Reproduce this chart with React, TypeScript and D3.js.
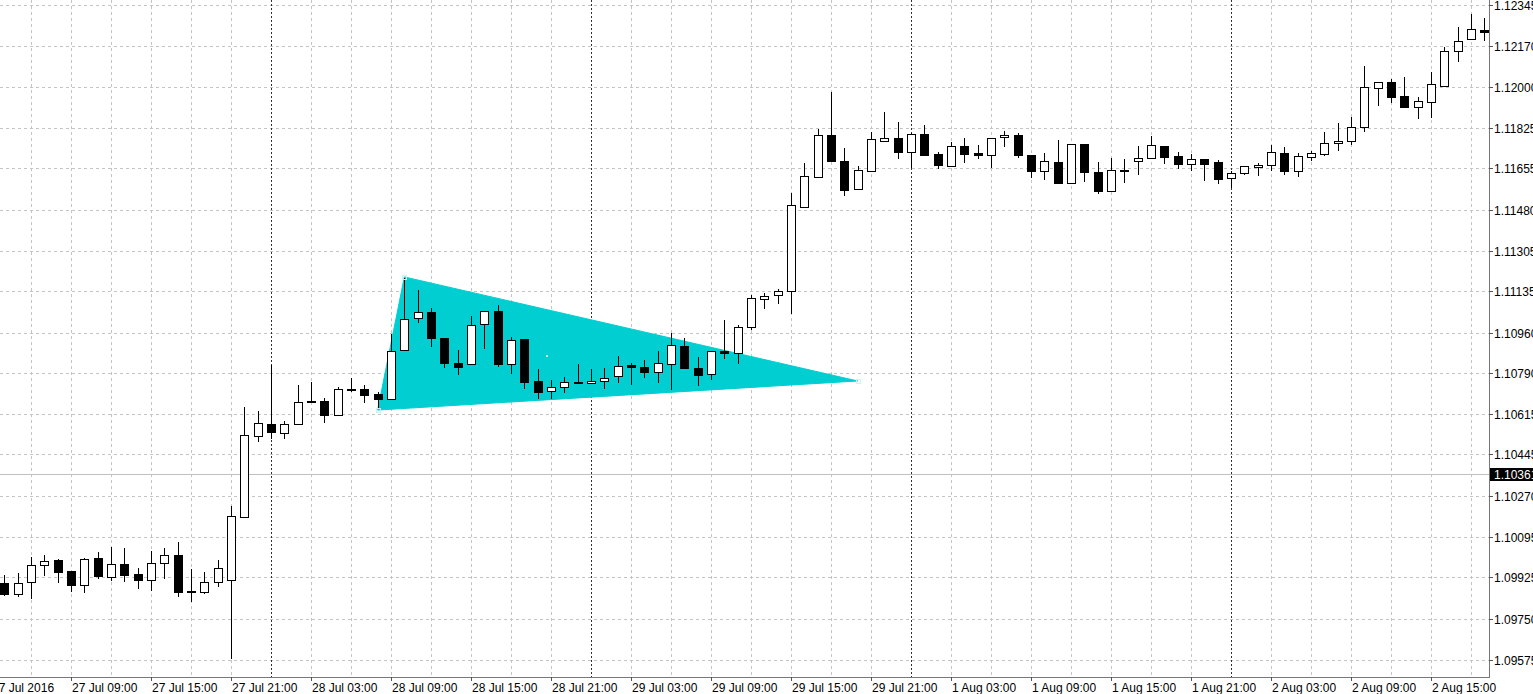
import React from "react";
import * as d3 from "d3";

// Bars are hourly (EURUSD H1). Bar index 0 = 28 Jul 2016 00:00; weekend skipped.
const firstBar = -20;

const opens = [
  1.09899, 1.09854, 1.09904, 1.09978, 1.09997, 1.0995, 1.09893, 1.10006, 1.09927, 1.09982,
  1.09937, 1.09915, 1.09984, 1.10019, 1.09868, 1.09864, 1.09904, 1.09915, 1.1018, 1.10521,
  1.10572, 1.10535, 1.10572, 1.10669, 1.10669, 1.1061, 1.10719, 1.10721, 1.10699, 1.10679,
  1.10885, 1.11021, 1.11048, 1.10937, 1.10832, 1.10826, 1.10995, 1.11051, 1.10828, 1.10934,
  1.10754, 1.10713, 1.1073, 1.10749, 1.10746, 1.10754, 1.10776, 1.10823, 1.10813, 1.10792,
  1.10827, 1.10904, 1.10809, 1.10785, 1.10882, 1.10875, 1.10982, 1.11102, 1.11119, 1.11136,
  1.11492, 1.11619, 1.11795, 1.11685, 1.11566, 1.11644, 1.11771, 1.11781, 1.11725, 1.11799,
  1.11714, 1.11664, 1.11749, 1.11718, 1.11711, 1.11786, 1.11794, 1.11709, 1.11642, 1.11681,
  1.11594, 1.11756, 1.1164, 1.1156, 1.11647, 1.11687, 1.11698, 1.1175, 1.11706, 1.11673,
  1.11695, 1.1168, 1.11612, 1.11633, 1.11661, 1.11668, 1.11718, 1.11644, 1.11704, 1.11715,
  1.1176, 1.11771, 1.11828, 1.11995, 1.12021, 1.1196, 1.11915, 1.11936, 1.12004, 1.12152,
  1.122, 1.12241,
];

const highs = [
  1.09934, 1.09944, 1.10009, 1.10019, 1.10001, 1.0995, 1.10006, 1.10031, 1.10054, 1.10047,
  1.09963, 1.10036, 1.10047, 1.10073, 1.09959, 1.09948, 1.09998, 1.10228, 1.10644, 1.10628,
  1.10823, 1.10586, 1.10738, 1.10749, 1.10682, 1.10731, 1.10766, 1.10738, 1.10708, 1.10952,
  1.1119, 1.1114, 1.11062, 1.10937, 1.10886, 1.1103, 1.11051, 1.11075, 1.10942, 1.10934,
  1.10804, 1.10759, 1.10773, 1.10826, 1.10804, 1.10809, 1.10861, 1.10832, 1.10844, 1.10882,
  1.10959, 1.10938, 1.10858, 1.10883, 1.11013, 1.10992, 1.11119, 1.11128, 1.11143, 1.11549,
  1.11678, 1.11819, 1.11978, 1.11739, 1.11665, 1.11809, 1.11891, 1.11852, 1.11805, 1.11837,
  1.11725, 1.11767, 1.11784, 1.11753, 1.11784, 1.11813, 1.11805, 1.11709, 1.1172, 1.11774,
  1.11756, 1.11756, 1.1168, 1.11697, 1.11694, 1.11749, 1.11791, 1.1175, 1.11725, 1.11714,
  1.11695, 1.1169, 1.11643, 1.11664, 1.11678, 1.11753, 1.11746, 1.11718, 1.11729, 1.11807,
  1.11847, 1.1187, 1.12087, 1.12021, 1.12031, 1.12042, 1.11957, 1.12063, 1.12169, 1.12253,
  1.12307, 1.1229,
];

const lows = [
  1.0985, 1.09847, 1.09838, 1.09936, 1.09906, 1.09867, 1.09861, 1.09921, 1.09913, 1.09909,
  1.09881, 1.09871, 1.09921, 1.09847, 1.09826, 1.0986, 1.09888, 1.09582, 1.1018, 1.105,
  1.10513, 1.10515, 1.10572, 1.10665, 1.10583, 1.1061, 1.10714, 1.10665, 1.10639, 1.10679,
  1.10885, 1.11006, 1.10903, 1.10815, 1.10783, 1.10826, 1.10893, 1.10818, 1.1079, 1.10727,
  1.10682, 1.10682, 1.1071, 1.10749, 1.10746, 1.10727, 1.10749, 1.10741, 1.10773, 1.10752,
  1.10721, 1.10811, 1.10738, 1.10762, 1.10853, 1.1083, 1.10975, 1.11065, 1.11083, 1.11041,
  1.11492, 1.11619, 1.11687, 1.11542, 1.11566, 1.11644, 1.11771, 1.11699, 1.11659, 1.11711,
  1.11657, 1.11664, 1.11682, 1.11697, 1.11661, 1.1175, 1.11704, 1.11616, 1.11609, 1.11594,
  1.11594, 1.11602, 1.11549, 1.1156, 1.11598, 1.1163, 1.11698, 1.11676, 1.11654, 1.11647,
  1.11605, 1.11591, 1.11575, 1.1163, 1.11626, 1.11647, 1.1163, 1.11622, 1.1169, 1.11711,
  1.11732, 1.11757, 1.11813, 1.11922, 1.11936, 1.11915, 1.11866, 1.11873, 1.12004, 1.12109,
  1.122, 1.12197,
];

const closes = [
  1.09854, 1.09902, 1.09975, 1.09995, 1.09948, 1.09893, 1.10002, 1.09932, 1.09982, 1.09934,
  1.09915, 1.09985, 1.10018, 1.09864, 1.09866, 1.09904, 1.09964, 1.10184, 1.10525, 1.10579,
  1.10538, 1.10572, 1.10666, 1.10665, 1.10612, 1.10722, 1.10722, 1.10694, 1.10679, 1.10882,
  1.11018, 1.11045, 1.10937, 1.1083, 1.10813, 1.1099, 1.11051, 1.10826, 1.1093, 1.10749,
  1.1071, 1.1073, 1.10749, 1.10751, 1.10755, 1.10766, 1.1082, 1.10814, 1.10792, 1.1083,
  1.10906, 1.10811, 1.1078, 1.10883, 1.10873, 1.10982, 1.11105, 1.11114, 1.11136, 1.11498,
  1.11622, 1.11795, 1.11687, 1.11563, 1.11647, 1.11777, 1.11781, 1.11723, 1.11799, 1.11711,
  1.11668, 1.11749, 1.11715, 1.11711, 1.11784, 1.11794, 1.11709, 1.11644, 1.11685, 1.11594,
  1.11756, 1.11639, 1.1156, 1.11646, 1.11648, 1.11697, 1.11752, 1.11704, 1.11673, 1.11695,
  1.11674, 1.11609, 1.11633, 1.11664, 1.11668, 1.11722, 1.11644, 1.11706, 1.1172, 1.11763,
  1.11771, 1.1183, 1.11997, 1.12021, 1.11955, 1.11915, 1.11939, 1.1201, 1.12151, 1.12194,
  1.12242, 1.12229,
];

const timeLabels = [
  "27 Jul 2016", "27 Jul 09:00", "27 Jul 15:00", "27 Jul 21:00", "28 Jul 03:00",
  "28 Jul 09:00", "28 Jul 15:00", "28 Jul 21:00", "29 Jul 03:00", "29 Jul 09:00",
  "29 Jul 15:00", "29 Jul 21:00", "1 Aug 03:00", "1 Aug 09:00", "1 Aug 15:00",
  "1 Aug 21:00", "2 Aug 03:00", "2 Aug 09:00", "2 Aug 15:00",
];
const timeLabelBars = [-21, -15, -9, -3, 3, 9, 15, 21, 27, 33, 39, 45, 51, 57, 63, 69, 75, 81, 87];
const dayBreakBars = [0, 24, 48, 72];

const priceTicks = [
  "1.12345", "1.12170", "1.12000", "1.11825", "1.11655", "1.11480", "1.11305", "1.11135",
  "1.10960", "1.10790", "1.10615", "1.10445", "1.10270", "1.10095", "1.09925", "1.09750", "1.09575",
];
const lastPrice = 1.10361;

const triangleBars = [10, 8, 44];
const trianglePrices = [1.11195, 1.10632, 1.10755];

const W = 1533;
const H = 694;
const plotRight = 1489;
const plotBottom = 677;
const FONT = "'Liberation Sans', Arial, sans-serif";

export default function App() {
  const x = d3.scaleLinear().domain([0, 24]).range([271, 591]);
  const y = d3.scaleLinear().domain([1.09575, 1.12345]).range([660, 5]);
  const px = (i: number) => Math.round(x(i));
  const py = (p: number) => Math.round(y(p));

  const bars = opens.map((o, k) => ({
    i: firstBar + k,
    o,
    h: highs[k],
    l: lows[k],
    c: closes[k],
  }));

  const gridBars = d3.range(-21, 92, 3).filter((b) => !dayBreakBars.includes(b));

  const triPts = triangleBars.map((b, k) => [x(b), y(trianglePrices[k])] as [number, number]);
  const centroid = [d3.mean(triPts, (p) => p[0])!, d3.mean(triPts, (p) => p[1])!];

  const lastY = py(lastPrice) + 0.5;

  return (
    <div style={{ position: "absolute", left: 0, top: 0 }}>
      <svg width={W} height={H} style={{ display: "block", background: "#fff" }}>
        <defs>
          <clipPath id="plot">
            <rect x={0} y={0} width={plotRight} height={plotBottom} />
          </clipPath>
        </defs>
        <rect x={0} y={0} width={W} height={H} fill="#fff" />
        <g clipPath="url(#plot)">
          {/* horizontal grid */}
          {priceTicks.map((t) => (
            <line
              key={"hg" + t}
              x1={0}
              x2={plotRight}
              y1={py(+t) + 0.5}
              y2={py(+t) + 0.5}
              stroke="#c4c4c4"
              strokeDasharray="3,3"
            />
          ))}
          {/* vertical grid */}
          {gridBars.map((b) => (
            <line
              key={"vg" + b}
              x1={px(b) + 0.5}
              x2={px(b) + 0.5}
              y1={0}
              y2={plotBottom}
              stroke="#c4c4c4"
              strokeDasharray="3,3"
            />
          ))}
          {/* day separators */}
          {dayBreakBars.map((b) => (
            <line
              key={"ds" + b}
              x1={px(b) + 0.5}
              x2={px(b) + 0.5}
              y1={0}
              y2={plotBottom}
              stroke="#303030"
              strokeDasharray="2,2"
            />
          ))}
          {/* bid line */}
          <line x1={0} x2={plotRight} y1={lastY} y2={lastY} stroke="#c0c0c0" />
          {/* triangle object */}
          <polygon points={triPts.map((p) => p.join(",")).join(" ")} fill="#00CED1" stroke="#00CED1" />
          {/* candles */}
          {bars.map((b) => {
            const cx = px(b.i);
            const bull = b.c >= b.o;
            const top = py(Math.max(b.o, b.c));
            const bot = py(Math.min(b.o, b.c));
            const h = Math.max(bot - top, 1);
            return (
              <g key={"c" + b.i}>
                <line x1={cx + 0.5} x2={cx + 0.5} y1={py(b.h)} y2={py(b.l) + 1} stroke="#000" />
                <rect
                  x={cx - 4 + 0.5}
                  y={top + 0.5}
                  width={8}
                  height={h}
                  fill={bull ? "#fff" : "#000"}
                  stroke="#000"
                />
              </g>
            );
          })}
          {/* triangle selection markers */}
          {triPts.map((p, k) => (
            <rect
              key={"tm" + k}
              x={Math.round(p[0]) - 2 + 0.5}
              y={Math.round(p[1]) - 2 + 0.5}
              width={4}
              height={4}
              fill="none"
              stroke="#c8f4f5"
            />
          ))}
          <rect x={Math.round(centroid[0]) - 1} y={Math.round(centroid[1]) - 1} width={2} height={2} fill="#c8f4f5" />
        </g>
        {/* axes frame */}
        <line x1={plotRight + 0.5} x2={plotRight + 0.5} y1={0} y2={plotBottom + 1} stroke="#777" />
        <line x1={0} x2={plotRight + 1} y1={plotBottom + 0.5} y2={plotBottom + 0.5} stroke="#777" />
        {/* price axis */}
        {priceTicks.map((t) => (
          <g key={"pt" + t}>
            <line x1={plotRight} x2={plotRight + 4} y1={py(+t) + 0.5} y2={py(+t) + 0.5} stroke="#555" />
            <text x={plotRight + 5} y={py(+t) + 0.5} dy="0.36em" fontFamily={FONT} fontSize={12} fill="#000">
              {t}
            </text>
          </g>
        ))}
        {/* last price box */}
        <rect x={plotRight + 1} y={lastY - 6.5} width={W - plotRight} height={13} fill="#000" />
        <text x={plotRight + 5} y={lastY} dy="0.36em" fontFamily={FONT} fontSize={12} fill="#fff">
          {lastPrice.toFixed(5)}
        </text>
        {/* time axis */}
        {timeLabels.map((t, k) => {
          const tx = px(timeLabelBars[k]);
          return (
            <g key={"tl" + t}>
              <line x1={tx + 0.5} x2={tx + 0.5} y1={plotBottom} y2={plotBottom + 4} stroke="#555" />
              <text x={tx + 1} y={692} fontFamily={FONT} fontSize={12} fill="#000">
                {t}
              </text>
            </g>
          );
        })}
      </svg>
    </div>
  );
}
